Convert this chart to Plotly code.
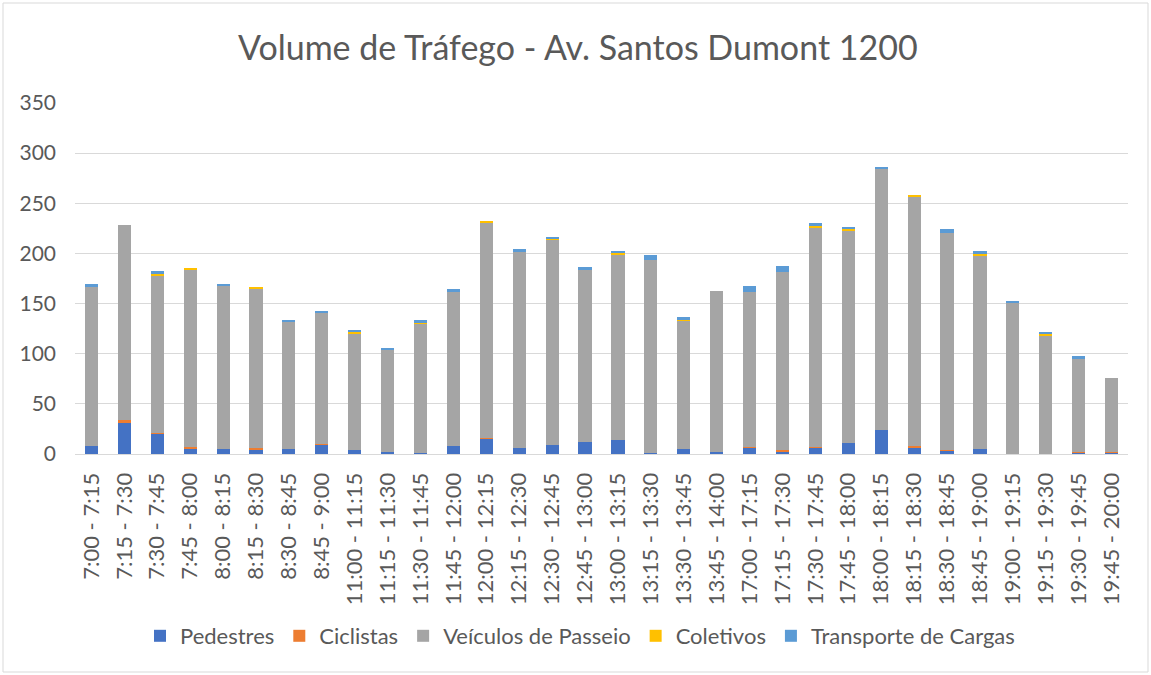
import plotly.graph_objects as go

categories = ["7:00 - 7:15", "7:15 - 7:30", "7:30 - 7:45", "7:45 - 8:00", "8:00 - 8:15",
              "8:15 - 8:30", "8:30 - 8:45", "8:45 - 9:00", "11:00 - 11:15", "11:15 - 11:30",
              "11:30 - 11:45", "11:45 - 12:00", "12:00 - 12:15", "12:15 - 12:30", "12:30 - 12:45",
              "12:45 - 13:00", "13:00 - 13:15", "13:15 - 13:30", "13:30 - 13:45", "13:45 - 14:00",
              "17:00 - 17:15", "17:15 - 17:30", "17:30 - 17:45", "17:45 - 18:00", "18:00 - 18:15",
              "18:15 - 18:30", "18:30 - 18:45", "18:45 - 19:00", "19:00 - 19:15", "19:15 - 19:30",
              "19:30 - 19:45", "19:45 - 20:00"]

pedestres = [8, 31, 20, 5, 5, 4, 5, 9, 4, 2, 1, 8, 15, 6, 9, 12, 14, 1, 5, 2, 6, 2, 6, 11, 24, 6, 3, 5, 0, 0, 1, 1]
ciclistas = [0, 3, 1, 2, 0, 2, 0, 1, 0, 0, 0, 0, 1, 0, 0, 0, 0, 0, 0, 0, 1, 2, 1, 0, 0, 2, 1, 0, 0, 0, 1, 1]
veiculos = [159, 194, 157, 176, 163, 159, 127, 131, 116, 102, 129, 154, 214, 195, 204, 171, 184, 192, 128, 161,
            155, 177, 218, 211, 261, 249, 216, 192, 151, 118, 93, 74]
coletivos = [0, 0, 1, 2, 0, 2, 0, 0, 2, 0, 1, 0, 2, 0, 2, 0, 2, 0, 1, 0, 0, 0, 2, 2, 0, 1, 0, 2, 0, 2, 0, 0]
cargas = [3, 0, 3, 0, 2, 0, 2, 1, 1, 1, 3, 3, 0, 3, 1, 3, 2, 5, 3, 0, 6, 6, 3, 2, 1, 0, 4, 3, 2, 1, 3, 0]

y_ticks = [0, 50, 100, 150, 200, 250, 300, 350]

series = [
    ("Pedestres", pedestres, "#4472C4"),
    ("Ciclistas", ciclistas, "#ED7D31"),
    ("Veículos de Passeio", veiculos, "#A5A5A5"),
    ("Coletivos", coletivos, "#FFC000"),
    ("Transporte de Cargas", cargas, "#5B9BD5"),
]

FONT = "Lato"
TXT = "#595959"

fig = go.Figure()
for name, vals, color in series:
    fig.add_trace(go.Bar(x=categories, y=vals, name=name,
                         marker=dict(color=color, line=dict(width=0))))

W, H = 1151, 675
L, R, T, B = 75, 1128, 103, 454


def px(x):
    return (x - L) / (R - L)


def py(y):
    return (B - y) / (B - T)


fig.update_layout(
    width=W, height=H,
    barmode="stack",
    bargap=0.6,
    plot_bgcolor="white",
    paper_bgcolor="white",
    margin=dict(l=L, r=W - R, t=T, b=H - B, pad=0),
    font=dict(family=FONT, color=TXT, size=21),
    title=dict(text="Volume de Tráfego - Av. Santos Dumont 1200",
               x=0.502, xref="container", xanchor="center",
               y=1 - 48 / H, yref="container", yanchor="middle",
               font=dict(family=FONT, size=34, color=TXT)),
    legend=dict(orientation="h", x=px(580), xanchor="center",
                y=py(636), yanchor="middle",
                font=dict(family=FONT, size=22, color=TXT),
                traceorder="normal", itemwidth=30),
    xaxis=dict(type="category", tickangle=-90, showgrid=False,
               showline=True, linecolor="#D9D9D9", linewidth=1,
               ticks="", ticklabelstandoff=9,
               tickfont=dict(family=FONT, size=22, color=TXT)),
    yaxis=dict(range=[0, 350], tickvals=y_ticks, showgrid=True,
               gridcolor="#D9D9D9", gridwidth=1, zeroline=False,
               showline=False, ticks="", ticklabelstandoff=18,
               tickfont=dict(family=FONT, size=21, color=TXT)),
    shapes=[dict(type="rect", xref="paper", yref="paper",
                 x0=px(3), x1=px(1148), y0=py(672), y1=py(3),
                 line=dict(color="#D9D9D9", width=1), layer="below")],
)

fig.write_html("out.html",
               config={"displayModeBar": False},
               post_script="document.body.style.margin='0';document.body.style.overflow='hidden';")
